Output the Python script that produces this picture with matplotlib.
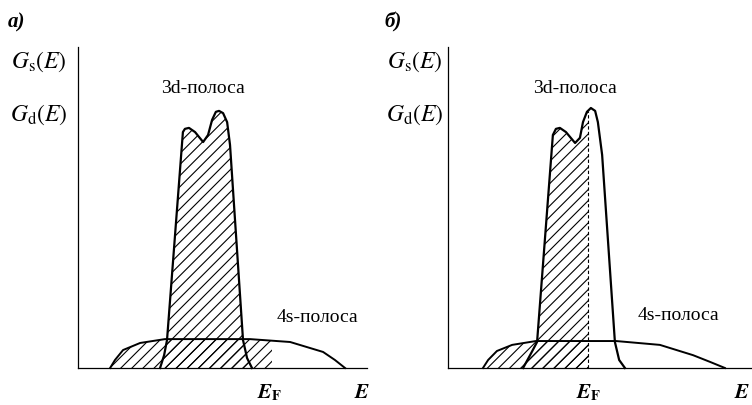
import matplotlib
matplotlib.use("Agg")

import matplotlib.pyplot as plt
from matplotlib.patches import Rectangle
import numpy as np

plt.rcParams["mathtext.fontset"] = "stix"
plt.rcParams["hatch.linewidth"] = 0.8
plt.rcParams["font.family"] = ["Liberation Serif", "DejaVu Serif"]

# panel а): 4s band and 3d band (E, G), all 3d band is filled
a_s_E = [1.11, 1.28, 1.56, 2.15, 3.01, 5.95, 7.34, 8.48, 8.89, 9.24]
a_s_G = [0.00, 0.25, 0.56, 0.78, 0.90, 0.90, 0.81, 0.50, 0.25, 0.00]
a_d_E = [2.84, 2.98, 3.08, 3.63, 3.70, 3.84, 4.05, 4.33, 4.50, 4.64, 4.77,
         4.88, 5.02, 5.16, 5.26, 5.71, 5.85, 6.02]
a_d_G = [0.00, 0.40, 0.87, 7.35, 7.45, 7.48, 7.35, 7.04, 7.26, 7.73, 7.98,
         8.01, 7.94, 7.66, 6.95, 0.87, 0.31, 0.00]
a_EF = 6.71

# panel б): Fermi level inside the 3d band
b_s_E = [1.15, 1.32, 1.61, 2.11, 2.89, 5.53, 6.97, 8.06, 8.62, 9.11]
b_s_G = [0.00, 0.25, 0.53, 0.72, 0.84, 0.84, 0.72, 0.40, 0.19, 0.00]
b_d_E = [2.47, 2.70, 2.93, 3.45, 3.55, 3.68, 3.88, 4.18, 4.34, 4.44, 4.57,
         4.70, 4.84, 4.93, 5.07, 5.49, 5.63, 5.82]
b_d_G = [0.00, 0.40, 0.81, 7.26, 7.45, 7.48, 7.35, 7.01, 7.17, 7.66, 7.98,
         8.10, 8.01, 7.66, 6.64, 0.81, 0.25, 0.00]
b_EF = 4.61

W, H = 752, 405


def px(x, y):
    return x / W, 1 - y / H


def hatched(ax, E, G, ef):
    poly = ax.fill(E, G, facecolor="none", edgecolor="black", hatch="///",
                   linewidth=0)[0]
    poly.set_clip_path(Rectangle((0, 0), ef, 10, transform=ax.transData))


def panel(ax, sE, sG, dE, dG, ef, dashed, lbl3d, lbl4s, lblEF, lblE):
    ax.set_xlim(0, 10)
    ax.set_ylim(0, 10)
    ax.set_xticks([])
    ax.set_yticks([])
    for side in ["top", "right"]:
        ax.spines[side].set_visible(False)
    ax.spines["left"].set_linewidth(0.9)
    ax.spines["bottom"].set_linewidth(0.9)
    ax.patch.set_alpha(0)

    hatched(ax, sE, sG, ef)
    hatched(ax, dE, dG, ef)
    ax.plot(sE, sG, color="black", lw=1.4, clip_on=False)
    ax.plot(dE, dG, color="black", lw=1.6, clip_on=False)
    if dashed:
        ax.vlines(ef, 0, np.interp(ef, dE, dG), colors="black",
                  linestyles=(0, (3, 2)), lw=0.8)

    ax.text(lbl3d[0], lbl3d[1], "3d-полоса", fontsize=14, ha="center",
            va="center")
    ax.text(lbl4s[0], lbl4s[1], "4s-полоса", fontsize=14, ha="center",
            va="center")
    ax.text(lblEF, -0.78, r"$\boldsymbol{E}_\mathbf{F}$", fontsize=15,
            ha="center", va="center", clip_on=False)
    ax.text(lblE, -0.78, r"$\boldsymbol{E}$", fontsize=15, ha="center",
            va="center", clip_on=False)


fig = plt.figure(figsize=(W / 100, H / 100), dpi=100)
ax1 = fig.add_axes([78 / W, 37 / H, 289 / W, 321 / H])
ax2 = fig.add_axes([448 / W, 37 / H, 304 / W, 321 / H])

panel(ax1, a_s_E, a_s_G, a_d_E, a_d_G, a_EF, False,
      (4.33, 8.72), (8.27, 1.56), 6.64, 9.83)
panel(ax2, b_s_E, b_s_G, b_d_E, b_d_G, b_EF, True,
      (4.18, 8.72), (7.57, 1.65), 4.64, 9.68)

for x0, tag in [(8, "а)"), (384, "б)")]:
    fig.text(*px(x0, 22), tag, fontsize=15, fontweight="bold",
             style="italic", ha="left", va="center")
    fig.text(*px(x0 + 31, 62), r"$G_\mathrm{s}(E)$", fontsize=17,
             ha="center", va="center")
    fig.text(*px(x0 + 31, 115), r"$G_\mathrm{d}(E)$", fontsize=17,
             ha="center", va="center")

fig.savefig("out.png", dpi=100)
